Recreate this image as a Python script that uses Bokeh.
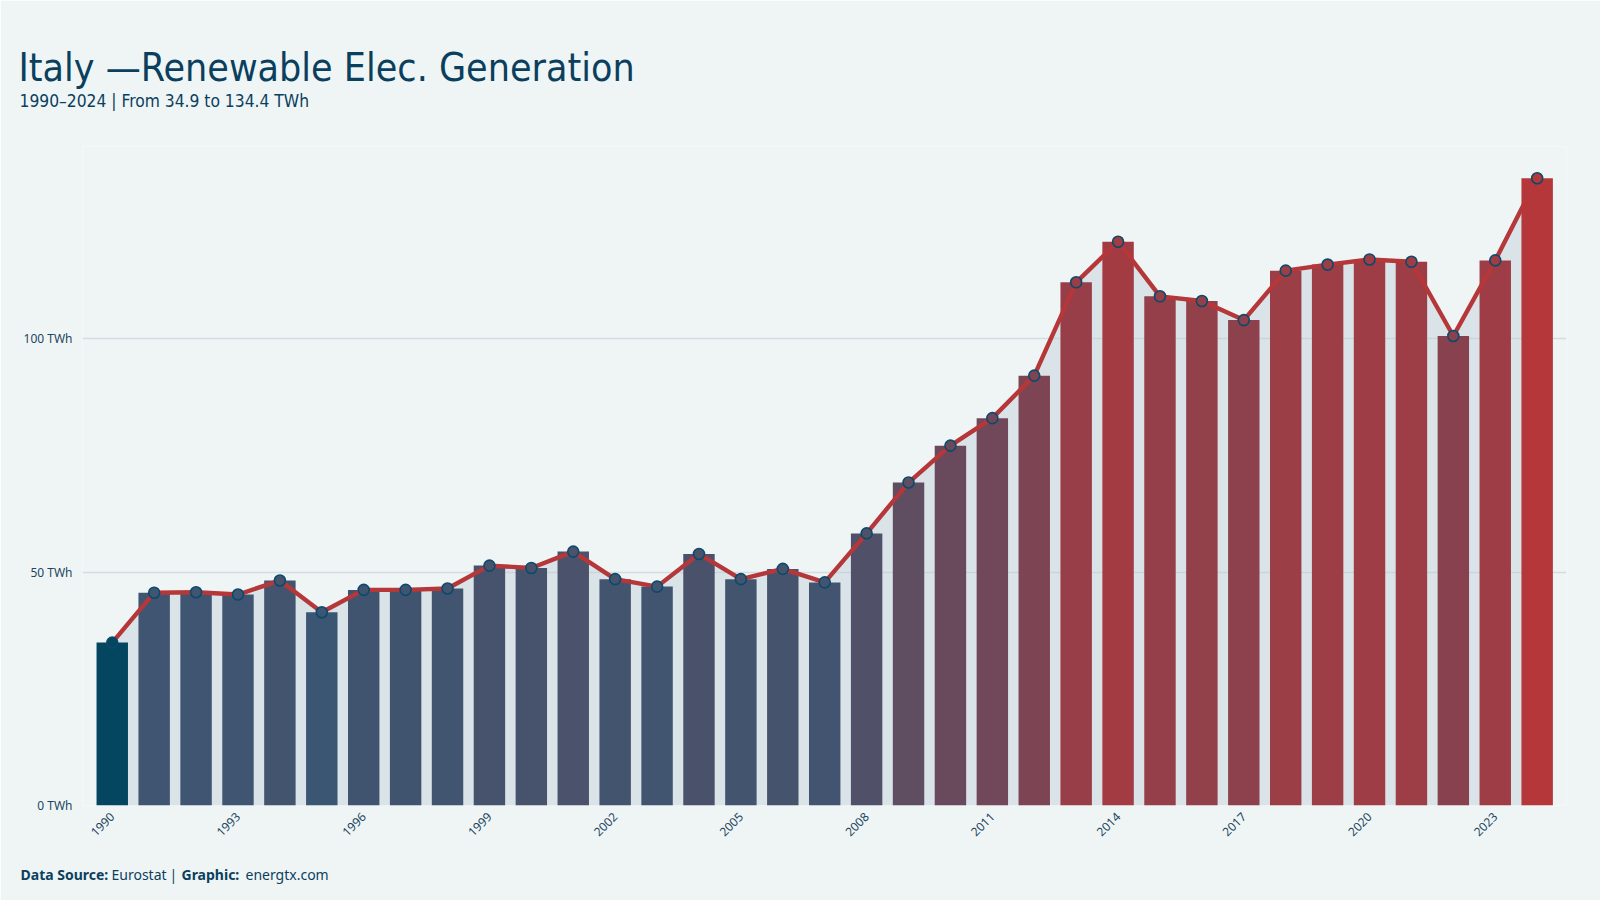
import math

from bokeh.embed import file_html
from bokeh.models import (ColumnDataSource, FixedTicker, Label, LinearColorMapper,
                          PrintfTickFormatter, Range1d)
from bokeh.plotting import figure
from bokeh.resources import INLINE
from bokeh.transform import transform

# Italy, renewable electricity generation (TWh), 1990-2024
years = list(range(1990, 2025))
generation_twh = [34.9, 45.6, 45.7, 45.2, 48.2, 41.4, 46.2, 46.2, 46.5, 51.4,
                  50.9, 54.4, 48.5, 46.9, 53.9, 48.5, 50.7, 47.8, 58.3, 69.2,
                  77.1, 83.0, 92.1, 112.1, 120.8, 109.1, 108.1, 104.0, 114.6, 115.9,
                  117.0, 116.5, 100.6, 116.8, 134.4]
x_tick_years = list(range(1990, 2024, 3))
y_ticks = [0, 50, 100]

title_text = "Italy \u2014Renewable Elec. Generation"
subtitle_text = "1990\u20132024 | From 34.9 to 134.4 TWh"
footer_parts = [("Data Source:", "bold"), ("Eurostat", "normal"), ("|", "normal"),
                ("Graphic:", "bold"), ("energtx.com", "normal")]

BG = "#eff5f5"
INK = "#0b3f5e"
LOW_COL = (58, 86, 115)     # slate blue for the low end of the scale
HIGH_COL = (181, 55, 58)    # red for the high end
MIN_COL = "#04455f"         # the lowest year stands out
LINE_COL = "#b5373a"
NARROW = "DejaVu Sans Condensed"


def blend(a, b, t):
    return "#%02x%02x%02x" % tuple(round(a[i] + (b[i] - a[i]) * t) for i in range(3))


palette = [blend(LOW_COL, HIGH_COL, i / 255) for i in range(256)]
ordered = sorted(generation_twh)
mapper = LinearColorMapper(palette=palette, low=ordered[1], high=ordered[-1],
                           low_color=MIN_COL, high_color=palette[-1])

src = ColumnDataSource(dict(year=years, twh=generation_twh,
                            zero=[0] * len(years)))

p = figure(width=1600, height=900, output_backend="svg", toolbar_location=None,
           x_range=Range1d(1989.29, 2024.70), y_range=Range1d(0, 141.2),
           min_border_left=82, min_border_right=34, min_border_top=146,
           min_border_bottom=95)
p.title.visible = False
p.background_fill_color = BG
p.border_fill_color = BG
p.outline_line_color = None

# light band under the line
p.varea(x="year", y1="zero", y2="twh", source=src,
        fill_color="#b4c8d2", fill_alpha=0.36)

p.vbar(x="year", top="twh", width=0.75, source=src,
       fill_color=transform("twh", mapper), line_color=None)

p.line(x="year", y="twh", source=src, line_color=LINE_COL, line_width=4.4,
       line_join="round", line_cap="round")

p.scatter(x="year", y="twh", source=src, size=11,
          fill_color=transform("twh", mapper), line_color="#0c4a6b", line_width=1.6)

p.xaxis.ticker = FixedTicker(ticks=x_tick_years)
p.xaxis.major_label_orientation = math.pi / 4
p.yaxis.ticker = FixedTicker(ticks=y_ticks)
p.yaxis.formatter = PrintfTickFormatter(format="%d TWh")
for ax in (p.xaxis, p.yaxis):
    ax.axis_line_color = None
    ax.major_tick_line_color = None
    ax.minor_tick_line_color = None
    ax.major_label_text_font = "Noto Sans"
    ax.major_label_text_font_size = "12px"
    ax.major_label_text_color = "#1c4560"
p.yaxis.major_tick_out = 0
p.yaxis.major_label_standoff = 10
p.xaxis.major_tick_out = 0
p.xaxis.major_label_standoff = 9

p.xgrid.grid_line_color = None
p.ygrid.grid_line_color = "#d3dde1"
p.ygrid.grid_line_width = 1.3

# Texts outside the frame live in side panels (canvas units, so they are not
# clipped); they are spread over the top and bottom panels to keep the borders.
p.add_layout(Label(x=18, y=67, x_units="canvas", y_units="canvas", text=title_text,
                   text_font=NARROW, text_font_size="39px", text_color=INK,
                   text_baseline="alphabetic"), "above")
p.add_layout(Label(x=19, y=100, x_units="canvas", y_units="canvas", text=subtitle_text,
                   text_font=NARROW, text_font_size="17.3px", text_color=INK,
                   text_baseline="alphabetic"), "above")

footer_x = [20, 111, 169, 181, 245]
footer_side = ["below", "below", "above", "above", "above"]
for fx, side, (txt, style) in zip(footer_x, footer_side, footer_parts):
    p.add_layout(Label(x=fx, y=874, x_units="canvas", y_units="canvas", text=txt,
                       text_font="Noto Sans", text_font_size="14px",
                       text_font_style=style, text_color=INK,
                       text_baseline="alphabetic"), side)

open("out.html", "w").write(file_html(p, INLINE))
